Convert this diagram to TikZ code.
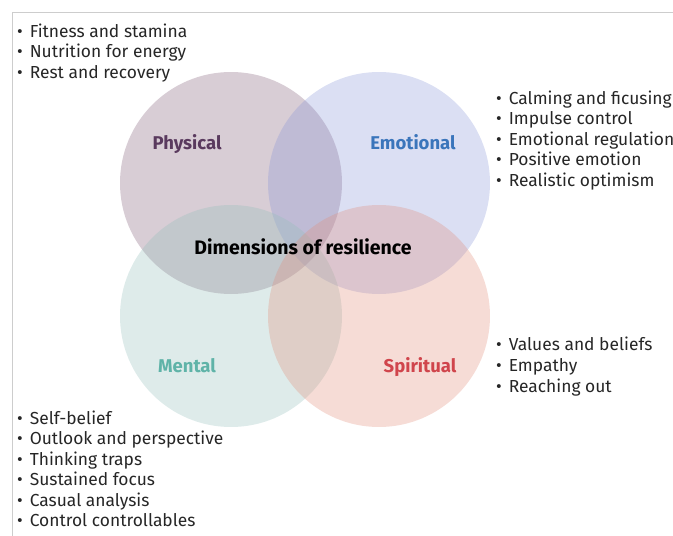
\documentclass[tikz,border=0pt]{standalone}
\usepackage{fontspec}
\setmainfont{Fira Sans}
\definecolor{physcol}{RGB}{125,88,115}
\definecolor{emocol}{RGB}{135,148,215}
\definecolor{mentcol}{RGB}{145,190,185}
\definecolor{spircol}{RGB}{225,140,120}
\definecolor{physlab}{RGB}{90,58,94}
\definecolor{emolab}{RGB}{58,117,187}
\definecolor{mentlab}{RGB}{95,179,168}
\definecolor{spirlab}{RGB}{208,69,76}
\definecolor{framecol}{RGB}{205,205,205}
\newcommand{\itembullet}{\textbullet\hspace{7pt}}
\tikzset{
  lobe/.style={fill=#1, fill opacity=0.3, draw=none},
  lobelabel/.style={anchor=base, inner sep=0pt, font=\fontsize{18.5}{22}\selectfont\bfseries, text=#1},
  listitem/.style={anchor=base west, inner sep=0pt, font=\fontsize{17.4}{21}\selectfont, text=black!85}
}
\begin{document}
\begin{tikzpicture}[x=1pt,y=-1pt]
				\useasboundingbox (0,0) rectangle (673,536);
				\coordinate (P) at (231, 183);
				\coordinate (E) at (379, 183);
				\coordinate (M) at (231, 316);
				\coordinate (S) at (379, 316);
				
				% frame on top and left
				\draw[framecol, line width=0.8pt] (12,536) -- (12,12) -- (673,12);
				
				% the four dimensions
				\fill[lobe=physcol] (P) circle (111);
				\fill[lobe=emocol] (E) circle (111);
				\fill[lobe=mentcol] (M) circle (111);
				\fill[lobe=spircol] (S) circle (111);
				
				\node[lobelabel=physlab] (physical) at (187, 149.3) {Physical};
				\node[lobelabel=emolab] (emotional) at (413, 149.3) {Emotional};
				\node[lobelabel=mentlab] (mental) at (187, 372.7) {Mental};
				\node[lobelabel=spirlab] (spiritual) at (420, 372.7) {Spiritual};
				\node[lobelabel=black, font=\fontsize{19.5}{22}\selectfont\bfseries] (centre) at (303, 254) {Dimensions of resilience};
				
				% what each one covers, one line at a time
				\foreach \txt [count=\i] in {Fitness and stamina, Nutrition for energy, Rest and recovery}
					\node[listitem] (phys-\i) at (17, {37+20.6*(\i-1)}) {\itembullet\txt};
				\foreach \txt [count=\i] in {Calming and ficusing, Impulse control, Emotional regulation, Positive emotion, Realistic optimism}
					\node[listitem] (emo-\i) at (496, {104.3+20.5*(\i-1)}) {\itembullet\txt};
				\foreach \txt [count=\i] in {Values and beliefs, Empathy, Reaching out}
					\node[listitem] (spir-\i) at (496, {350.7+21*(\i-1)}) {\itembullet\txt};
				\foreach \txt [count=\i] in {Self-belief, Outlook and perspective, Thinking traps, Sustained focus, Casual analysis, Control controllables}
					\node[listitem] (ment-\i) at (17, {424.3+20.5*(\i-1)}) {\itembullet\txt};
			\end{tikzpicture}
\end{document}
